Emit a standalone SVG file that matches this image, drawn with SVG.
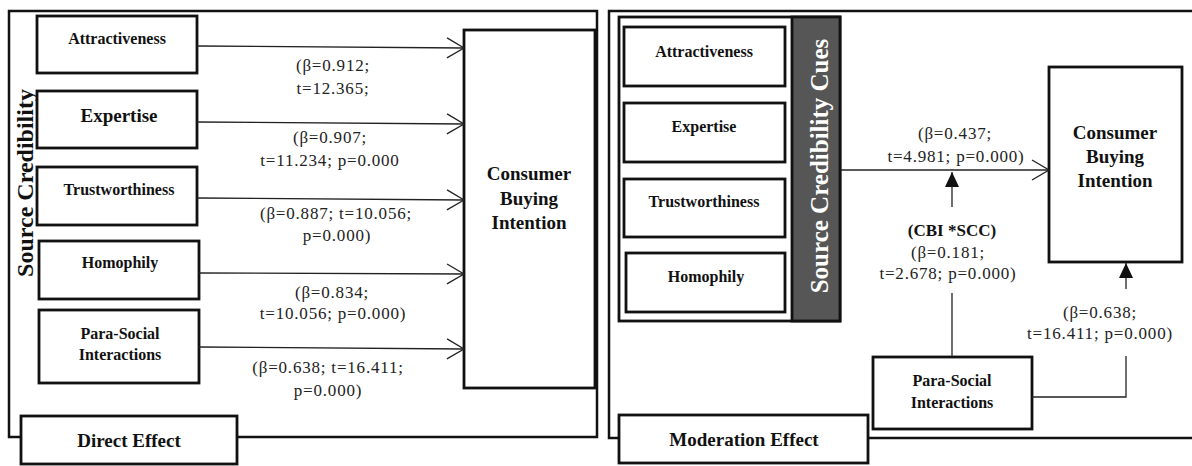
<svg xmlns="http://www.w3.org/2000/svg" width="1192" height="466" viewBox="0 0 1192 466">
<defs>
<style>
.frame{fill:none;stroke:#111;stroke-width:2.5}
.box{fill:#fff;stroke:#111;stroke-width:2.8}
.lbl{font-family:"Liberation Serif","Times New Roman",serif;font-weight:bold;font-size:16px;fill:#111;text-anchor:middle}
.big{font-size:19px}
.num{font-family:"Liberation Serif","Times New Roman",serif;font-size:17px;fill:#222;text-anchor:middle;letter-spacing:0.8px}
.ln{fill:none;stroke:#222;stroke-width:1.3}
</style>
<marker id="open" markerUnits="userSpaceOnUse" markerWidth="20" markerHeight="24" refX="18" refY="11" orient="auto" viewBox="0 0 20 24">
<path d="M1,1 L18,11 L1,21" fill="none" stroke="#222" stroke-width="1.3"/>
</marker>
<marker id="fill" markerUnits="userSpaceOnUse" markerWidth="16" markerHeight="16" refX="15" refY="7" orient="auto" viewBox="0 0 16 16">
<path d="M0,0 L15,7 L0,14 Z" fill="#111"/>
</marker>
</defs>
<rect width="1192" height="466" fill="#fff"/>

<!-- Left panel -->
<g id="left-frame">
<rect class="frame" x="9" y="11" width="588" height="426"/>
<text class="lbl" x="0" y="0" transform="translate(33,183) rotate(-90)" style="font-size:24px">Source Credibility</text>
</g>
<g id="l-attr"><rect class="box" x="37" y="16" width="160" height="57"/><text class="lbl" x="117" y="44">Attractiveness</text></g>
<g id="l-exp"><rect class="box" x="37" y="91" width="160" height="57"/><text class="lbl big" x="119" y="122">Expertise</text></g>
<g id="l-trust"><rect class="box" x="37" y="167" width="160" height="58"/><text class="lbl" x="119" y="195">Trustworthiness</text></g>
<g id="l-homo"><rect class="box" x="39" y="241" width="160" height="58"/><text class="lbl" x="120" y="268">Homophily</text></g>
<g id="l-para"><rect class="box" x="39" y="310" width="160" height="73"/><text class="lbl" x="120" y="339">Para-Social</text><text class="lbl" x="120" y="360">Interactions</text></g>
<g id="l-cbi"><rect class="box" x="464" y="30" width="131" height="358"/><text class="lbl big" x="529" y="180">Consumer</text><text class="lbl big" x="529" y="205">Buying</text><text class="lbl big" x="529" y="229">Intention</text></g>
<g id="l-direct"><rect class="box" x="21" y="416" width="216" height="48"/><text class="lbl big" x="129" y="447">Direct Effect</text></g>

<!-- Right panel -->
<g id="right-frame">
<path class="frame" d="M1195,11 H609 V438 H1195"/>
</g>
<g id="r-group">
<rect class="box" x="619" y="17" width="221" height="304"/>
<rect x="792" y="17" width="48" height="304" fill="#565656" stroke="#111" stroke-width="2.8"/>
<text class="lbl" x="0" y="0" transform="translate(828,166) rotate(-90)" style="font-size:25px;fill:#fff">Source Credibility Cues</text>
</g>
<g id="r-attr"><rect class="box" x="624" y="27" width="161" height="59"/><text class="lbl" x="704" y="57">Attractiveness</text></g>
<g id="r-exp"><rect class="box" x="624" y="103" width="161" height="59"/><text class="lbl" x="704" y="132">Expertise</text></g>
<g id="r-trust"><rect class="box" x="624" y="179" width="161" height="58"/><text class="lbl" x="704" y="207">Trustworthiness</text></g>
<g id="r-homo"><rect class="box" x="626" y="253" width="159" height="59"/><text class="lbl" x="706" y="282">Homophily</text></g>
<g id="r-cbi"><rect class="box" x="1049" y="67" width="133" height="195"/><text class="lbl big" x="1115" y="139">Consumer</text><text class="lbl big" x="1115" y="163">Buying</text><text class="lbl big" x="1115" y="187">Intention</text></g>
<g id="r-para"><rect class="box" x="873" y="357" width="159" height="72"/><text class="lbl" x="952" y="386">Para-Social</text><text class="lbl" x="952" y="408">Interactions</text></g>
<g id="r-mod"><rect class="box" x="619" y="415" width="249" height="48"/><text class="lbl big" x="744" y="446">Moderation Effect</text></g>

<!-- Connectors -->
<g id="connectors">
<line class="ln" x1="197" y1="46" x2="464" y2="48" marker-end="url(#open)"/>
<line class="ln" x1="197" y1="122" x2="464" y2="124" marker-end="url(#open)"/>
<line class="ln" x1="197" y1="198" x2="464" y2="200" marker-end="url(#open)"/>
<line class="ln" x1="199" y1="273" x2="464" y2="274" marker-end="url(#open)"/>
<line class="ln" x1="199" y1="347" x2="464" y2="349" marker-end="url(#open)"/>
<line class="ln" x1="841" y1="170" x2="1049" y2="170" marker-end="url(#open)"/>
<line class="ln" x1="952" y1="207" x2="952" y2="172" marker-end="url(#fill)"/>
<line class="ln" x1="952" y1="357" x2="952" y2="293"/>
<polyline class="ln" points="1032,397 1126,397 1126,356"/>
<line class="ln" x1="1126" y1="289" x2="1126" y2="263" marker-end="url(#fill)"/>
</g>

<!-- Labels -->
<g id="labels">
<text class="num" x="333" y="71">(β=0.912;</text>
<text class="num" x="333" y="94">t=12.365;</text>
<text class="num" x="330" y="143">(β=0.907;</text>
<text class="num" x="330" y="166">t=11.234; p=0.000</text>
<text class="num" x="336" y="219">(β=0.887; t=10.056;</text>
<text class="num" x="337" y="241">p=0.000)</text>
<text class="num" x="332" y="298">(β=0.834;</text>
<text class="num" x="333" y="319">t=10.056; p=0.000)</text>
<text class="num" x="328" y="373">(β=0.638; t=16.411;</text>
<text class="num" x="328" y="396">p=0.000)</text>
<text class="num" x="955" y="139">(β=0.437;</text>
<text class="num" x="956" y="162">t=4.981; p=0.000)</text>
<text class="lbl" x="952" y="236" style="font-size:17px">(CBI *SCC)</text>
<text class="num" x="948" y="258">(β=0.181;</text>
<text class="num" x="948" y="279">t=2.678; p=0.000)</text>
<text class="num" x="1100" y="318">(β=0.638;</text>
<text class="num" x="1100" y="339">t=16.411; p=0.000)</text>
</g>
</svg>
